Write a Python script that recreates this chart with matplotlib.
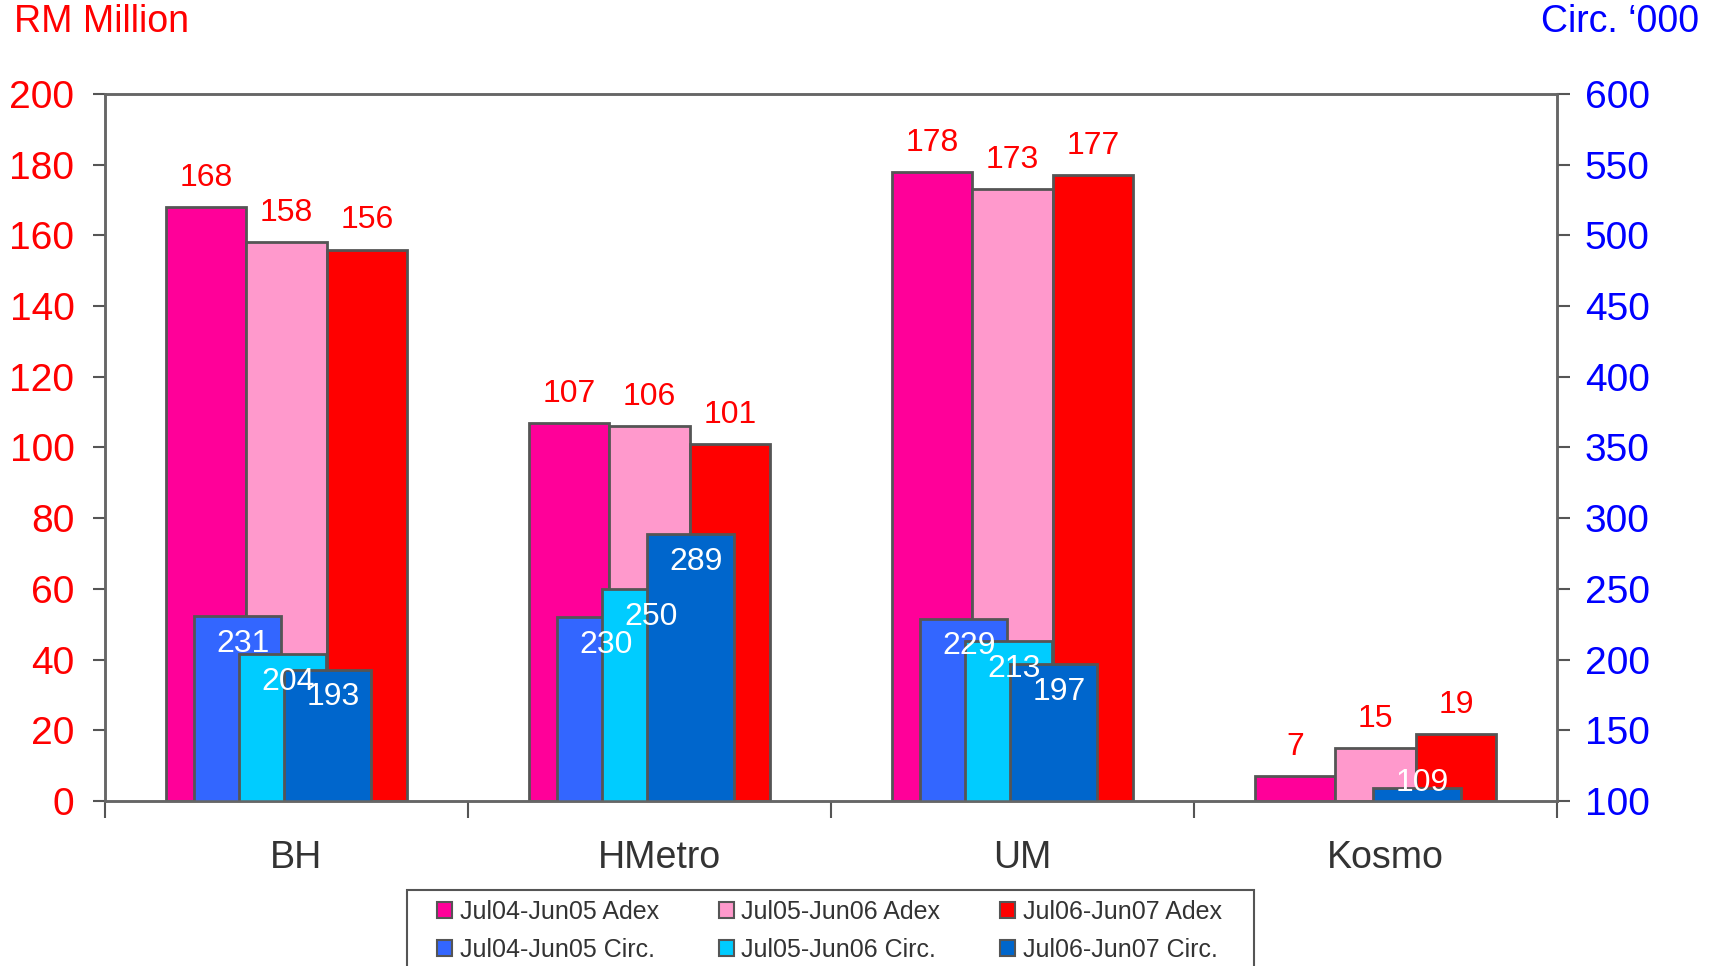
import matplotlib
matplotlib.use('Agg')
import matplotlib.pyplot as plt
import matplotlib.transforms as mtransforms
import numpy as np
from matplotlib.patches import Patch, Rectangle

plt.rcParams['font.family'] = ['Liberation Sans', 'DejaVu Sans']

papers = ['BH', 'HMetro', 'UM', 'Kosmo']

adex_labels = ['Jul04-Jun05 Adex', 'Jul05-Jun06 Adex', 'Jul06-Jun07 Adex']
adex_0405 = [168, 107, 178, 7]
adex_0506 = [158, 106, 173, 15]
adex_0607 = [156, 101, 177, 19]

circ_labels = ['Jul04-Jun05 Circ.', 'Jul05-Jun06 Circ.', 'Jul06-Jun07 Circ.']
circ_0405 = [231, 230, 229, np.nan]
circ_0506 = [204, 250, 213, np.nan]
circ_0607 = [193, 289, 197, 109]

adex_colors = ['#FF0099', '#FF99CC', '#FF0000']
circ_colors = ['#3366FF', '#00CCFF', '#0066CC']
edge = '#555555'

fig = plt.figure(figsize=(17.19, 9.66), dpi=100)
ax = fig.add_axes([0.0611, 0.1708, 0.9058 - 0.0611, 0.9027 - 0.1708])
ax2 = ax.twinx()

x = np.arange(len(papers))
adex_series = [adex_0405, adex_0506, adex_0607]
circ_series = [circ_0405, circ_0506, circ_0607]

# Adex bars (left axis)
aw = 0.222
for i, (vals, col) in enumerate(zip(adex_series, adex_colors)):
    xs = x + (i - 1) * aw
    ax.bar(xs, vals, width=aw, color=col, edgecolor=edge, linewidth=2)
    for xi, v in zip(xs, vals):
        ax.annotate(f'{v}', (xi, v), xytext=(0, 21), textcoords='offset points',
                    ha='center', va='center', color='#FF0000', fontsize=23)

# Circulation bars (right axis), overlapping
cw = 0.24
step = 0.124
for i, (vals, col) in enumerate(zip(circ_series, circ_colors)):
    xs = x + (i - 1) * step - 0.01
    ax2.bar(xs, vals, width=cw, color=col, edgecolor=edge, linewidth=2)
    for xi, v in zip(xs, vals):
        if np.isnan(v):
            continue
        dy = -20 if v - 100 > 30 else 4
        ax2.annotate(f'{v:.0f}', (xi, v), xytext=(4, dy), textcoords='offset points',
                     ha='center', va='center', color='white', fontsize=23)

ax.set_xlim(-0.5, 3.5)
ax.set_ylim(0, 200)
ax2.set_ylim(100, 600)
ax.set_yticks(np.arange(0, 201, 20))
ax2.set_yticks(np.arange(100, 601, 50))

ax.set_xticks(np.arange(-0.5, 3.6, 1))
ax.set_xticklabels([])
ax.set_xticks(x, minor=True)
ax.set_xticklabels(papers, minor=True, fontsize=27, color='#333333')
ax.tick_params(axis='x', which='major', length=12, width=1.5, color='#555555', direction='out')
ax.tick_params(axis='x', which='minor', length=0, pad=28)
# category names sit a little right of the group centres in the original
shift = mtransforms.ScaledTranslation(7 / 72, 0, fig.dpi_scale_trans)
for lab in ax.get_xticklabels(minor=True):
    lab.set_transform(lab.get_transform() + shift)

ax.tick_params(axis='y', labelsize=28, labelcolor='#FF0000', length=9, width=1.5,
               color='#555555', pad=13)
ax2.tick_params(axis='y', labelsize=28, labelcolor='#0000FF', length=9, width=1.5,
                color='#555555', pad=11)

for a in (ax, ax2):
    for s in a.spines.values():
        s.set_color('#666666')
        s.set_linewidth(1.8)

fig.text(14 / 1719, 1 - 22 / 966, 'RM Million', color='#FF0000', fontsize=27,
         ha='left', va='center')
fig.text(1699 / 1719, 1 - 22 / 966, 'Circ. \u2018000', color='#0000FF', fontsize=27,
         ha='right', va='center')

# legend box (runs off the bottom edge like the original)
fig.patches.append(Rectangle((407 / 1719, -0.05), (1254 - 407) / 1719, 0.05 + 1 - 890 / 966,
                             transform=fig.transFigure, facecolor='white',
                             edgecolor='#555555', linewidth=1.5))

# legend, row-major order with 3 columns
handles = []
labels = []
for a_lab, a_col, c_lab, c_col in zip(adex_labels, adex_colors, circ_labels, circ_colors):
    handles += [Patch(facecolor=a_col, edgecolor=edge, linewidth=1.5),
                Patch(facecolor=c_col, edgecolor=edge, linewidth=1.5)]
    labels += [a_lab, c_lab]
leg = fig.legend(handles, labels, ncol=3, loc='upper left',
                 bbox_to_anchor=(437 / 1719, 1 - 900 / 966), borderaxespad=0,
                 fontsize=18, frameon=False,
                 handlelength=0.6, handleheight=0.6, handletextpad=0.3,
                 columnspacing=2.4, labelspacing=0.55, borderpad=0,
                 labelcolor='#333333')

fig.savefig('out.png', dpi=100)
